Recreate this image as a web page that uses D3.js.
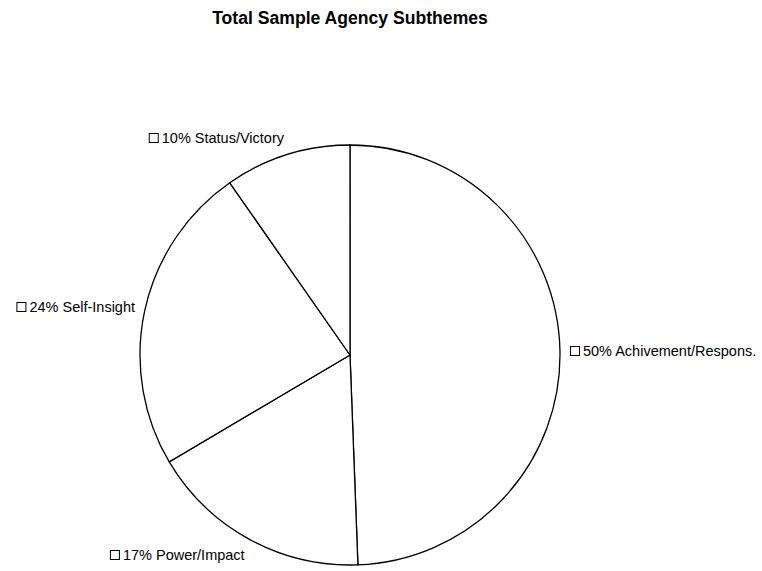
<!DOCTYPE html>
<html>
<head>
<meta charset="utf-8">
<script src="https://cdn.jsdelivr.net/npm/d3@7"></script>
<style>
  body { margin: 0; background: #fff; }
  text { font-family: "Liberation Sans", Arial, Helvetica, sans-serif; }
</style>
</head>
<body>
<svg id="chart"></svg>
<script>
const width = 762, height = 571;
const center = { x: 350, y: 355 };
const radius = 210;

// slices in clockwise order from 12 o'clock
const categories = ["Achivement/Respons.", "Power/Impact", "Self-Insight", "Status/Victory"];
const shares = [49.4, 17.1, 23.8, 9.7];
const pctLabels = ["50%", "17%", "24%", "10%"];

const data = categories.map((c, i) => ({ name: c, value: shares[i], pct: pctLabels[i] }));

const svg = d3.select("#chart").attr("width", width).attr("height", height);

// title
svg.append("text")
   .attr("x", center.x)
   .attr("y", 24)
   .attr("text-anchor", "middle")
   .attr("font-size", 17.6)
   .attr("font-weight", "bold")
   .text("Total Sample Agency Subthemes");

const pie = d3.pie().value(d => d.value).sort(null);
const arc = d3.arc().innerRadius(0).outerRadius(radius);
const arcs = pie(data);

const g = svg.append("g").attr("transform", `translate(${center.x},${center.y})`);

g.selectAll("path")
 .data(arcs)
 .enter()
 .append("path")
 .attr("d", arc)
 .attr("fill", "#fff")
 .attr("stroke", "#000")
 .attr("stroke-width", 1.3);

// labels: box + text, label box touching a circle just outside the pie
const labelR = 220, halfH = 8, boxSize = 10, gap = 3;
arcs.forEach(a => {
    const mid = (a.startAngle + a.endAngle) / 2;
    const px = labelR * Math.sin(mid);
    const py = -labelR * Math.cos(mid);
    const lab = g.append("g");
    const txt = lab.append("text")
                   .attr("font-size", 14.5)
                   .attr("dominant-baseline", "central")
                   .text(`${a.data.pct} ${a.data.name}`);
    const w = boxSize + gap + txt.node().getComputedTextLength();
    const left = Math.sin(mid) > 0 ? px : px - w;
    const cy = py - halfH * Math.cos(mid);
    lab.append("rect")
       .attr("x", left + 0.5)
       .attr("y", Math.round(cy - boxSize / 2) + 0.5)
       .attr("width", boxSize - 1)
       .attr("height", boxSize - 1)
       .attr("fill", "#fff")
       .attr("stroke", "#000")
       .attr("stroke-width", 1);
    txt.attr("x", left + boxSize + gap).attr("y", cy);
});
</script>
</body>
</html>
